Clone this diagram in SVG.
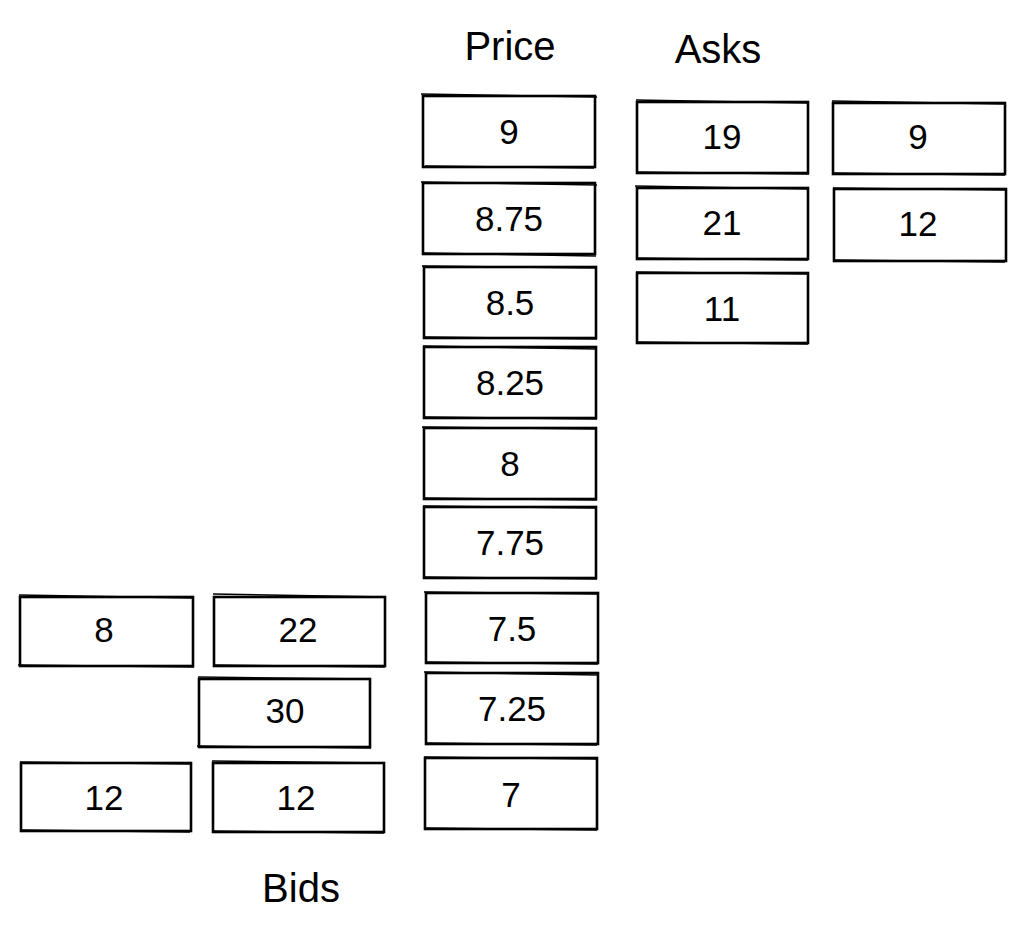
<svg xmlns="http://www.w3.org/2000/svg" width="1024" height="934" viewBox="0 0 1024 934">
<style>
.box{fill:#fff;stroke:#000;stroke-width:2.6}
.sk{fill:none;stroke:#000;stroke-width:1.4}
.num{font-family:"Liberation Sans",sans-serif;font-size:35px;fill:#000;text-anchor:middle;dominant-baseline:central}
.lbl{font-family:"Liberation Sans",sans-serif;font-size:40px;fill:#000;text-anchor:middle}
</style>
<rect width="1024" height="934" fill="#fff"/>
<g id="labels">
<text class="lbl" x="510" y="60">Price</text>
<text class="lbl" x="718" y="63">Asks</text>
<text class="lbl" x="301" y="902">Bids</text>
</g>
<g id="price">
<g id="p9"><rect class="box" x="423" y="96" width="172" height="71"/><path class="sk" d="M421 94 L597 97 M425 166 L594 168"/><text class="num" x="509" y="131">9</text></g>
<g id="p875"><rect class="box" x="423" y="183" width="172" height="71"/><path class="sk" d="M421 182 L597 185 M424 253 L596 256"/><text class="num" x="509" y="218">8.75</text></g>
<g id="p85"><rect class="box" x="424" y="267" width="172" height="71"/><path class="sk" d="M422 266 L597 268 M425 337 L597 339"/><text class="num" x="510" y="302">8.5</text></g>
<g id="p825"><rect class="box" x="424" y="347" width="172" height="71"/><path class="sk" d="M423 346 L596 349 M425 417 L597 419"/><text class="num" x="510" y="382">8.25</text></g>
<g id="p8"><rect class="box" x="424" y="428" width="172" height="71"/><path class="sk" d="M422 427 L597 429 M425 498 L597 500"/><text class="num" x="510" y="463">8</text></g>
<g id="p775"><rect class="box" x="424" y="507" width="172" height="71"/><path class="sk" d="M423 506 L596 508 M425 577 L597 579"/><text class="num" x="510" y="542">7.75</text></g>
<g id="p75"><rect class="box" x="426" y="593" width="172" height="70"/><path class="sk" d="M424 592 L599 594 M427 662 L598 664"/><text class="num" x="512" y="628">7.5</text></g>
<g id="p725"><rect class="box" x="426" y="673" width="172" height="71"/><path class="sk" d="M424 672 L598 675 M427 743 L597 745"/><text class="num" x="512" y="708">7.25</text></g>
<g id="p7"><rect class="box" x="425" y="758" width="172" height="71"/><path class="sk" d="M424 757 L598 759 M426 828 L597 830"/><text class="num" x="511" y="794">7</text></g>
</g>
<g id="asks">
<g id="a19"><rect class="box" x="637" y="102" width="171" height="71"/><path class="sk" d="M636 100 L808 103 M636 172 L809 174"/><text class="num" x="722" y="136">19</text></g>
<g id="a21"><rect class="box" x="637" y="188" width="171" height="71"/><path class="sk" d="M635 186 L809 189 M637 258 L808 260"/><text class="num" x="722" y="222">21</text></g>
<g id="a11"><rect class="box" x="637" y="273" width="171" height="70"/><path class="sk" d="M636 272 L809 274 M637 342 L808 344"/><text class="num" x="722" y="308">11</text></g>
<g id="a9"><rect class="box" x="833" y="103" width="172" height="71"/><path class="sk" d="M832 101 L1006 104 M834 173 L1005 175"/><text class="num" x="918" y="136">9</text></g>
<g id="a12"><rect class="box" x="834" y="189" width="172" height="72"/><path class="sk" d="M833 188 L1006 190 M835 260 L1005 262"/><text class="num" x="918" y="223">12</text></g>
</g>
<g id="bids">
<g id="b8"><rect class="box" x="20" y="597" width="173" height="69"/><path class="sk" d="M19 595 L193 598 M18 665 L194 667"/><text class="num" x="104" y="629">8</text></g>
<g id="b22"><rect class="box" x="214" y="597" width="171" height="69"/><path class="sk" d="M213 594 L386 597 M214 665 L385 667"/><text class="num" x="298" y="629">22</text></g>
<g id="b30"><rect class="box" x="199" y="679" width="171" height="68"/><path class="sk" d="M198 677 L370 679 M197 746 L371 748"/><text class="num" x="285" y="710">30</text></g>
<g id="b12a"><rect class="box" x="21" y="763" width="170" height="68"/><path class="sk" d="M20 762 L192 764 M21 830 L190 832"/><text class="num" x="104" y="797">12</text></g>
<g id="b12b"><rect class="box" x="213" y="763" width="171" height="69"/><path class="sk" d="M212 761 L385 763 M213 831 L384 833"/><text class="num" x="296" y="797">12</text></g>
</g>
<g id="connectors"></g>
</svg>
